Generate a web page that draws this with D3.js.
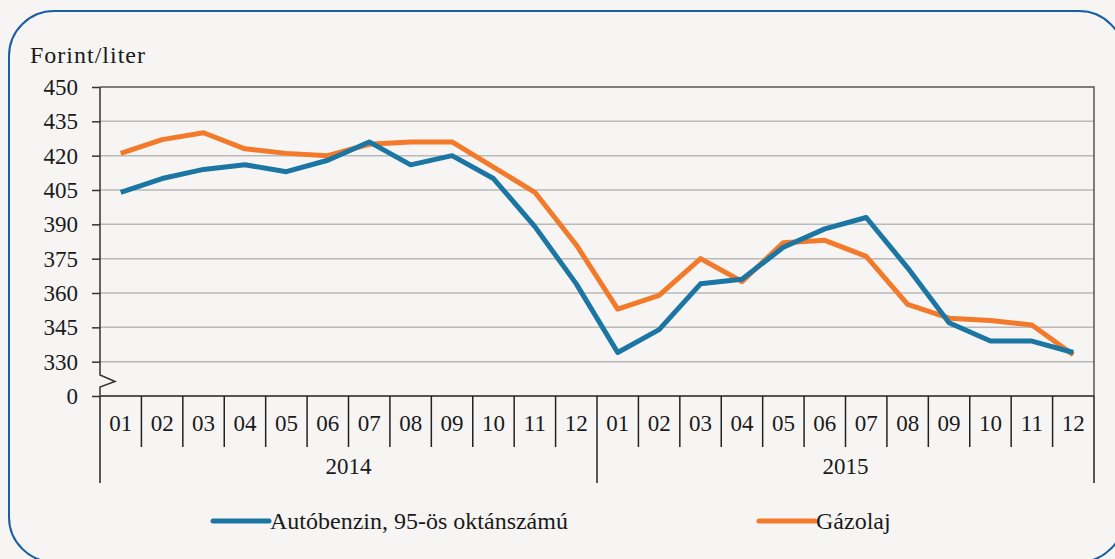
<!DOCTYPE html>
<html>
<head>
<meta charset="utf-8">
<script src="https://cdn.jsdelivr.net/npm/d3@7"></script>
<style>
  html, body { margin: 0; padding: 0; background: #f6f5f3; }
  svg { display: block; }
  text { font-family: "Liberation Serif", "Times New Roman", serif; fill: #1a1a1a; }
</style>
</head>
<body>
<svg id="chart" width="1115" height="559"></svg>
<script>
// ---- data ----
const months = ["01","02","03","04","05","06","07","08","09","10","11","12",
                "01","02","03","04","05","06","07","08","09","10","11","12"];
const years = ["2014", "2015"];
const benzin = [404, 410, 414, 416, 413, 418, 426, 416, 420, 410, 389, 364,
                334, 344, 364, 366, 380, 388, 393, 371, 347, 339, 339, 334];
const gazolaj = [421, 427, 430, 423, 421, 420, 425, 426, 426, 415, 404, 381,
                 353, 359, 375, 365, 382, 383, 376, 355, 349, 348, 346, 333];
const seriesNames = ["Autóbenzin, 95-ös oktánszámú", "Gázolaj"];
const yTickValues = [315, 330, 345, 360, 375, 390, 405, 420, 435, 450];
const yTickLabels = ["0", "330", "345", "360", "375", "390", "405", "420", "435", "450"];
const yUnit = "Forint/liter";

// ---- layout ----
const pL = 100, pR = 1094, pT = 87, pB = 396;
const colors = ["#1b76a4", "#f47a2b"];
const svg = d3.select("#chart");

svg.append("rect").attr("x", 9).attr("y", 11).attr("width", 1115).attr("height", 551)
  .attr("rx", 45).attr("ry", 45)
  .attr("fill", "#f6f5f3").attr("stroke", "#1a5fa3").attr("stroke-width", 2);

const x = d3.scaleBand().domain(d3.range(months.length)).range([pL, pR]);
const y = d3.scaleLinear().domain([315, 450]).range([pB, pT]);

// gridlines
svg.append("g").selectAll("line").data(yTickValues.filter(v => v > 315 && v < 450)).join("line")
  .attr("x1", pL).attr("x2", pR).attr("y1", d => y(d)).attr("y2", d => y(d))
  .attr("stroke", "#b9b9b9").attr("stroke-width", 1.5);

// plot frame top + right
svg.append("path")
  .attr("d", `M${pL},${y(450)}H${pR}V${pB}`)
  .attr("fill", "none").attr("stroke", "#555").attr("stroke-width", 1.5);

// y axis
const yAxis = d3.axisLeft(y).tickValues(yTickValues)
  .tickFormat((d, i) => yTickLabels[i]).tickSize(8).tickPadding(14);
const gy = svg.append("g").attr("transform", `translate(${pL},0)`).call(yAxis);
gy.select(".domain").remove();
gy.selectAll(".tick line").attr("stroke", "#333").attr("stroke-width", 1.5);
gy.selectAll(".tick text").attr("font-size", 23).attr("fill", "#1a1a1a")
  .style("font-family", "'Liberation Serif', serif");

// y axis line with break
svg.append("path")
  .attr("d", `M${pL},${pT}V375L${pL + 15},381.5L${pL},387V${pB}`)
  .attr("fill", "none").attr("stroke", "#333").attr("stroke-width", 1.5);

// x axis base line
svg.append("line").attr("x1", pL).attr("x2", pR).attr("y1", pB).attr("y2", pB)
  .attr("stroke", "#555").attr("stroke-width", 2);

// month separators
const seps = d3.range(months.length + 1);
svg.append("g").selectAll("line").data(seps).join("line")
  .attr("x1", d => d < months.length ? x(d) : pR)
  .attr("x2", d => d < months.length ? x(d) : pR)
  .attr("y1", pB)
  .attr("y2", d => (d % 12 === 0) ? 483 : 447)
  .attr("stroke", "#222").attr("stroke-width", 1.5);

// month labels
svg.append("g").selectAll("text").data(months).join("text")
  .attr("x", (d, i) => x(i) + x.bandwidth() / 2).attr("y", 431)
  .attr("text-anchor", "middle").attr("font-size", 23).text(d => d);

// year labels
svg.append("g").selectAll("text").data(years).join("text")
  .attr("x", (d, i) => (x(i * 12) + (i === years.length - 1 ? pR : x((i + 1) * 12))) / 2)
  .attr("y", 474).attr("text-anchor", "middle").attr("font-size", 23).text(d => d);

// unit label
svg.append("text").attr("x", 30).attr("y", 63).attr("font-size", 24)
  .attr("letter-spacing", 1).text(yUnit);

// lines
const line = d3.line().x((d, i) => x(i) + x.bandwidth() / 2).y(d => y(d));
[[gazolaj, colors[1]], [benzin, colors[0]]].forEach(([s, c]) => {
  svg.append("path").datum(s).attr("d", line)
    .attr("fill", "none").attr("stroke", c).attr("stroke-width", 5)
    .attr("stroke-linejoin", "round");
});

// legend
const legendX = [213, 759];
seriesNames.forEach((name, i) => {
  const g = svg.append("g");
  g.append("line").attr("x1", legendX[i]).attr("x2", legendX[i] + 56)
    .attr("y1", 521).attr("y2", 521).attr("stroke", colors[i]).attr("stroke-width", 5)
    .attr("stroke-linecap", "round");
  g.append("text").attr("x", legendX[i] + 57).attr("y", 529).attr("font-size", 24).text(name);
});
</script>
</body>
</html>
